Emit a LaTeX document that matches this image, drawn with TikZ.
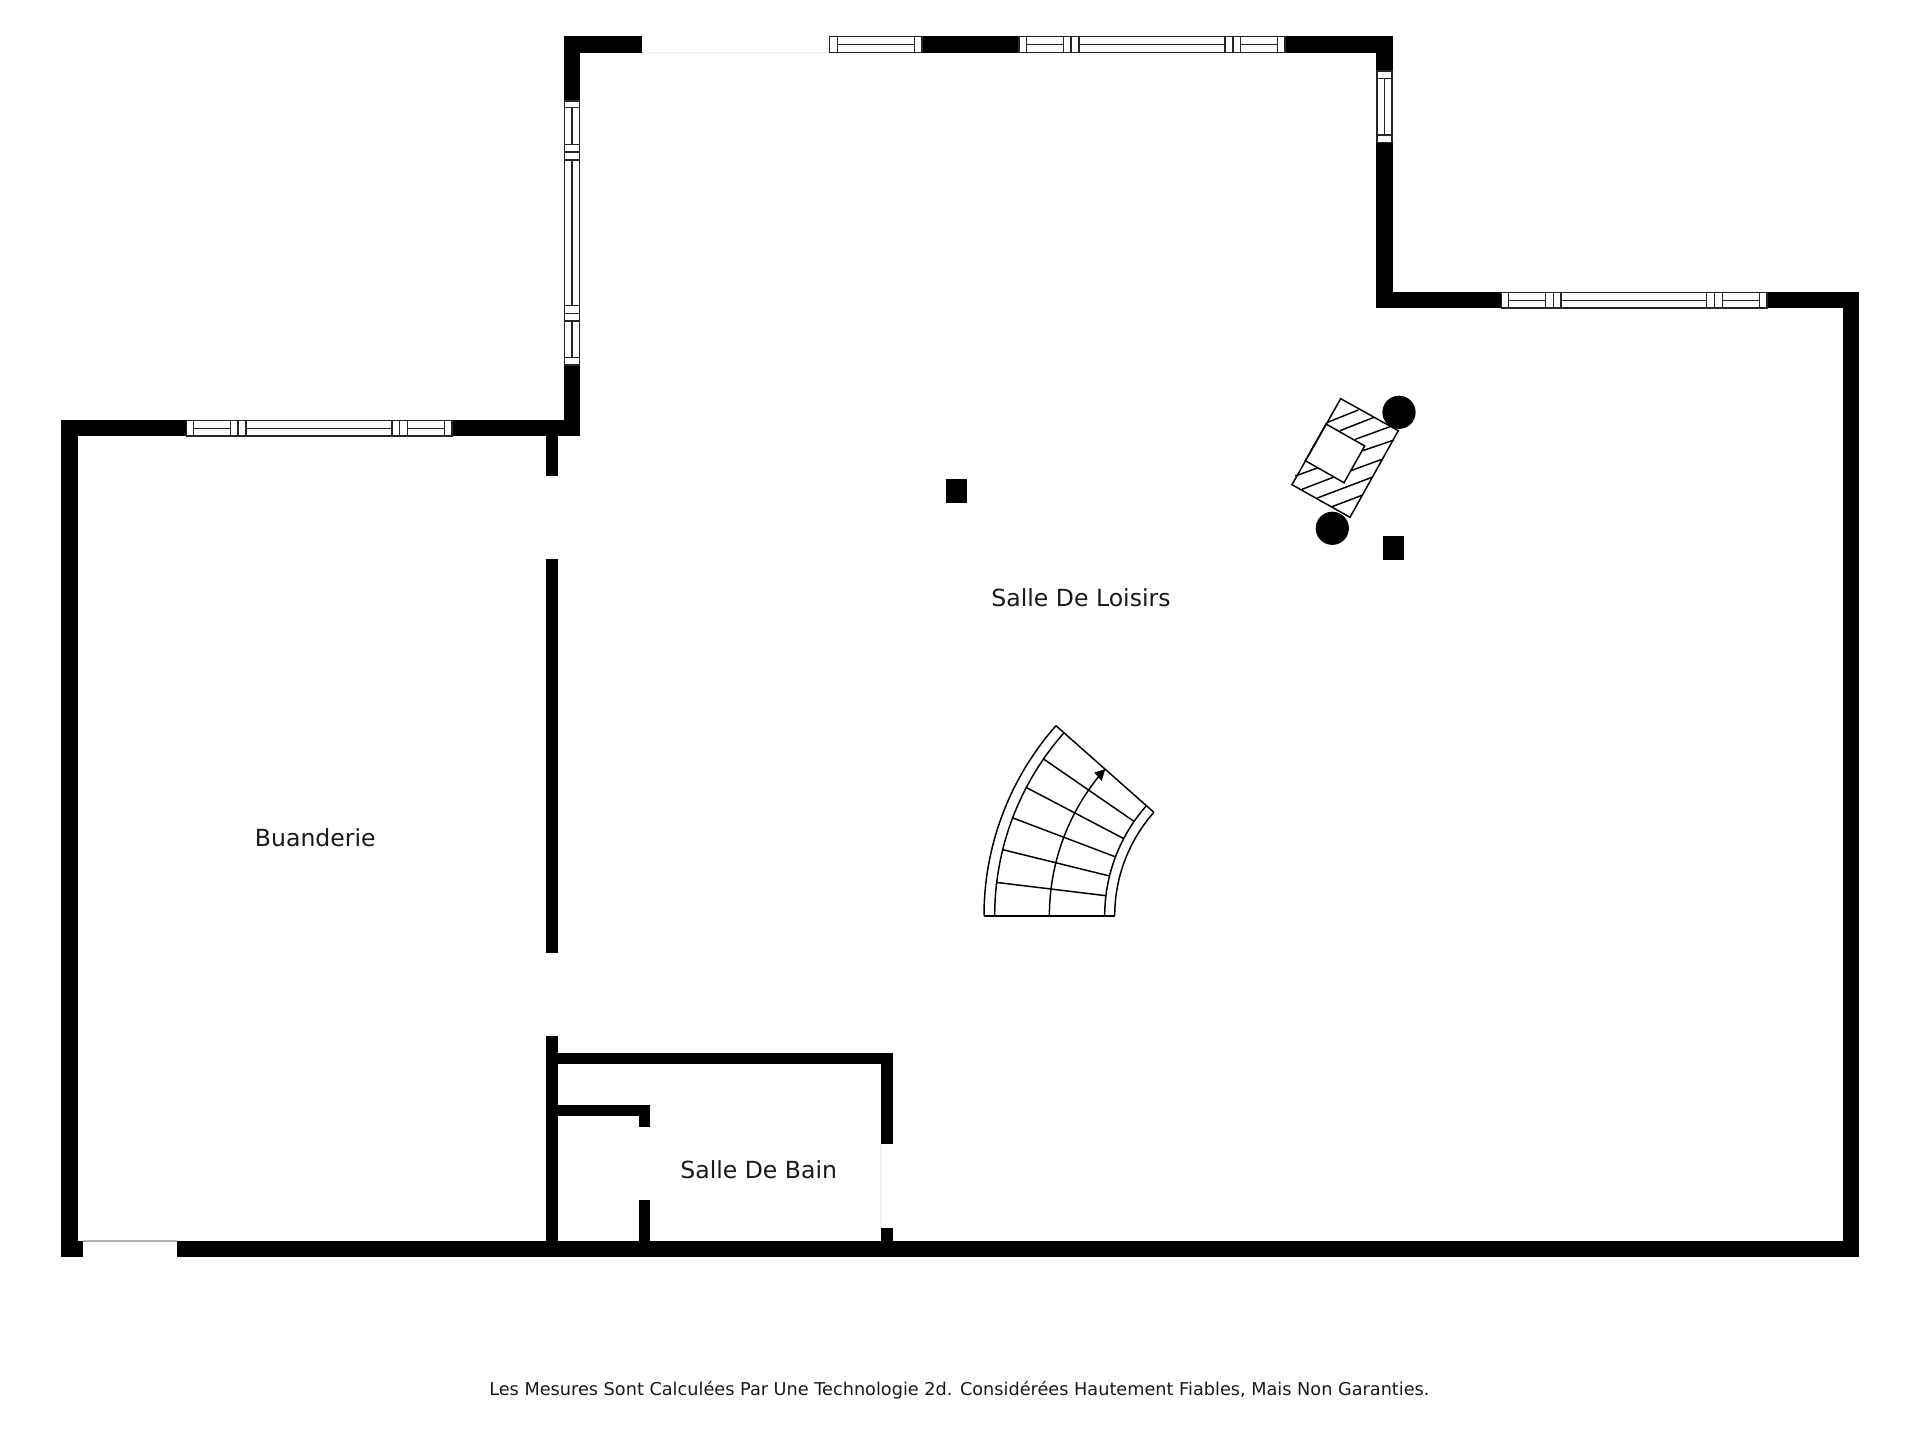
\documentclass[tikz,border=0pt]{standalone}
\usepackage{fontspec}
\setmainfont{DejaVu Sans}
\tikzset{
	wall/.style={fill=black, draw=none},
	winline/.style={line width=0.42pt, color=black!85},
	stepline/.style={line width=0.42pt, color=black},
	doorline/.style={line width=0.4pt, color=black!30},
	roomlabel/.style={font=\fontsize{6.7pt}{9pt}\selectfont, color=black!90},
}
% #1 y top, #2 y bottom, #3 x left, #4 x right, #5 bars, #6 panes
\def\hwindow#1#2#3#4#5#6{
	\draw[winline, fill=white] (#3, #1) rectangle (#4, #2);
	\foreach \xbar in {#5} \draw[winline] (\xbar, #1) -- (\xbar, #2);
	\foreach \xa/\xb in {#6} \draw[winline] (\xa, {(#1+#2)/2}) -- (\xb, {(#1+#2)/2});
}
% #1 x left, #2 x right, #3 y top, #4 y bottom, #5 bars, #6 panes
\def\vwindow#1#2#3#4#5#6{
	\draw[winline, fill=white] (#1, #3) rectangle (#2, #4);
	\foreach \ybar in {#5} \draw[winline] (#1, \ybar) -- (#2, \ybar);
	\foreach \ya/\yb in {#6} \draw[winline] ({(#1+#2)/2}, \ya) -- ({(#1+#2)/2}, \yb);
}
% stairs turn round (1270.7, 915.7): #1 radius, #2 end angle
\def\stairarc#1#2{\draw[stepline] ({1270.7-#1}, 915.7) arc (180:#2:#1);}

\begin{document}
\begin{tikzpicture}[x=0.01cm, y=-0.01cm]
	\useasboundingbox (0, 0) rectangle (1920, 1440);

	%%%%% OUTER WALLS %%%%%
	\fill[wall] (61, 420) rectangle (186, 436.5);
	\fill[wall] (452, 420) rectangle (580, 436.5);
	\fill[wall] (61, 420) rectangle (78, 1257);
	\fill[wall] (61, 1241) rectangle (83, 1257);
	\fill[wall] (177, 1241) rectangle (1859, 1257);
	\fill[wall] (1843, 292) rectangle (1859, 1257);
	\fill[wall] (1376, 292) rectangle (1502, 308);
	\fill[wall] (1767, 292) rectangle (1859, 308);
	\fill[wall] (1376, 36) rectangle (1393, 308);
	\fill[wall] (1285, 36) rectangle (1393, 53);
	\fill[wall] (922, 36) rectangle (1019, 53);
	\fill[wall] (564, 36) rectangle (642, 53);
	\fill[wall] (564, 36) rectangle (580, 101);
	\fill[wall] (564, 365) rectangle (580, 436.5);

	%%%%% WINDOWS %%%%%
	\vwindow{564.5}{579.5}{101}{365}{107.7,144.3,152,160,305.7,313.3,321,357.3}{107.7/144.3,160/305.7,321/357.3}
	\vwindow{1377}{1392}{71}{142.7}{78.7,135}{78.7/135}
	\hwindow{36.5}{52.5}{829.5}{922}{837.5,914.3}{837.5/914.3}
	\hwindow{36.5}{52.5}{1019}{1285}{1026.6,1063.3,1071.2,1079.2,1225,1233,1240.5,1277.7}{1026.6/1063.3,1079.2/1225,1240.5/1277.7}
	\hwindow{292.5}{308}{1501.5}{1767}{1508.7,1545.3,1553.3,1561,1706.7,1714.7,1722.7,1759.3}{1508.7/1545.3,1561/1706.7,1722.7/1759.3}
	\hwindow{420.5}{436}{186.5}{452}{193.3,230.4,238,246,391.8,399.6,407.5,444.6}{193.3/230.4,246/391.8,407.5/444.6}

	%%%%% DOORS %%%%%
	\draw[doorline] (83, 1241) -- (177, 1241);
	\draw[doorline, color=black!4] (642, 53) -- (829, 53);
	\draw[doorline, color=black!4] (881, 1144) -- (881, 1228);

	%%%%% INNER WALLS %%%%%
	\fill[wall] (546, 436) rectangle (558, 476);
	\fill[wall] (546, 559.5) rectangle (558, 953);
	\fill[wall] (546, 1036) rectangle (558, 1241);
	\fill[wall] (558, 1053) rectangle (893, 1064);
	\fill[wall] (881, 1053) rectangle (893, 1144);
	\fill[wall] (881, 1228) rectangle (893, 1241);
	\fill[wall] (558, 1105) rectangle (650, 1116);
	\fill[wall] (639, 1105) rectangle (650, 1127);
	\fill[wall] (639, 1200) rectangle (650, 1241);

	%%%%% POSTS %%%%%
	\fill[wall] (946, 479) rectangle (967, 503);
	\fill[wall] (1383, 536) rectangle (1404, 560);
	\fill (1399, 412.3) circle (16.6);
	\fill (1332.3, 528.3) circle (16.6);

	%%%%% ARMCHAIR %%%%%
	\draw[stepline] (1340.7, 398.7) -- (1398.3, 430.7) -- (1350, 517.3) -- (1292, 484.7) -- cycle;
	\draw[stepline] (1326, 424) -- (1364.7, 446) -- (1344, 482.7) -- (1305.3, 460.7) -- cycle;
	\foreach \xa/\ya/\xb/\yb in {1326.7/422.7/1358.3/410, 1340/430.7/1374/417.3, 1355.3/439.3/1390/426.7, 1362.7/450.7/1394/440, 1350.7/470.7/1382/459.3, 1317.3/498/1372/477.3, 1332/506.7/1362/495.3, 1302/489.3/1333.3/477.3, 1295.3/476/1317.3/468}
		\draw[stepline] (\xa, \ya) -- (\xb, \yb);

	%%%%% STAIRS %%%%%
	\stairarc{286.7}{221.5}
	\stairarc{276}{221.5}
	\stairarc{166}{221.5}
	\stairarc{156}{221.5}
	\stairarc{221.3}{219.5}
	\draw[stepline] ({1270.7+156*cos(221.5)}, {915.7+156*sin(221.5)}) -- ({1270.7+286.7*cos(221.5)}, {915.7+286.7*sin(221.5)});
	\draw[stepline, line width=0.65pt] (984, 915.7) -- (1114.7, 915.7);
	\foreach \k in {1,...,5}
		\draw[stepline] ({1270.7+166*cos(180+6.92*\k)}, {915.7+166*sin(180+6.92*\k)}) -- ({1270.7+276*cos(180+6.92*\k)}, {915.7+276*sin(180+6.92*\k)});
	\fill (1105.3, 769) -- (1094.3, 772.7) -- (1101.7, 781) -- cycle;

	%%%%% LABELS %%%%%
	\node[roomlabel] (loisirs) at (1081, 598) {Salle De Loisirs};
	\node[roomlabel] (buanderie) at (315.3, 838) {Buanderie};
	\node[roomlabel] (bain) at (758.7, 1170) {Salle De Bain};
	\node[font=\fontsize{5.03pt}{7pt}\selectfont, color=black!90] (mesures) at (959.4, 1390.4) {Les Mesures Sont Calculées Par Une Technologie 2d. Considérées Hautement Fiables, Mais Non Garanties.};
\end{tikzpicture}
\end{document}
